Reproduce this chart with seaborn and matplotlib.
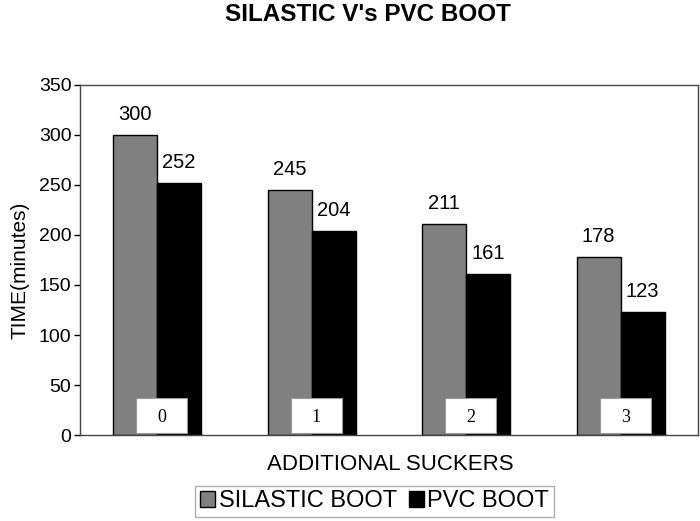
import matplotlib
matplotlib.use('Agg')
import matplotlib.pyplot as plt
from matplotlib.patches import Rectangle
import seaborn as sns
import pandas as pd

# data
suckers = ['0', '1', '2', '3']
silastic = [300, 245, 211, 178]
pvc = [252, 204, 161, 123]
series = ['SILASTIC BOOT', 'PVC BOOT']
colors = ['#808080', '#000000']

df = pd.DataFrame({
    'suckers': suckers * 2,
    'time': silastic + pvc,
    'boot': [series[0]] * len(suckers) + [series[1]] * len(suckers),
})

sns.set_style('white')
plt.rcParams['font.family'] = ['Liberation Sans', 'DejaVu Sans']
plt.rcParams['text.color'] = 'black'
plt.rcParams['axes.labelcolor'] = 'black'
plt.rcParams['ytick.color'] = 'black'

fig = plt.figure(figsize=(7, 5.21), dpi=100)
ax = fig.add_axes([0.114, 0.165, 0.883, 0.672])

sns.barplot(data=df, x='suckers', y='time', hue='boot', palette=colors,
            width=0.57, edgecolor='black', linewidth=1, ax=ax,
            saturation=1, legend=True)

# value labels above bars
for cont in ax.containers:
    for bar in cont:
        h = bar.get_height()
        ax.text(bar.get_x() + bar.get_width() / 2, h + 20, f'{h:.0f}',
                ha='center', va='center', fontsize=14.5)

# category labels in white boxes at the foot of each group
for i, s in enumerate(suckers):
    ax.add_patch(Rectangle((i + 0.03 - 0.165, 2), 0.33, 35, facecolor='white',
                           edgecolor='#999999', linewidth=0.8, zorder=5))
    ax.text(i + 0.03, 18, s, ha='center', va='center', fontsize=13,
            family='Liberation Serif', zorder=6)

ax.set_ylim(0, 350)
ax.set_xlim(-0.5, 3.5)
ax.set_yticks(range(0, 351, 50))
ax.set_xticks([])
ax.set_xlabel('')
ax.set_ylabel('TIME(minutes)', fontsize=15, labelpad=2)
ax.yaxis.set_label_coords(-0.082, 0.47)
ax.tick_params(axis='y', labelsize=14, length=4, left=True, width=1, pad=2)
for sp in ax.spines.values():
    sp.set_visible(True)
    sp.set_color('#444444')
    sp.set_linewidth(1)

fig.text(0.526, 0.972, "SILASTIC V's PVC BOOT", ha='center', va='center',
         fontsize=17.5, fontweight='bold')
fig.text(0.557, 0.108, 'ADDITIONAL SUCKERS', ha='center', va='center', fontsize=16)

ax.get_legend().remove()
handles, labels = ax.get_legend_handles_labels()
fig.legend(handles[:2], labels[:2], loc='upper center', bbox_to_anchor=(0.535, 0.068),
           ncol=2, fontsize=17, frameon=True, fancybox=False, edgecolor='#999999',
           handlelength=0.65, handleheight=0.65, handletextpad=0.15,
           columnspacing=0.5, borderpad=0.2, borderaxespad=0)

fig.savefig('out.png', dpi=100)
